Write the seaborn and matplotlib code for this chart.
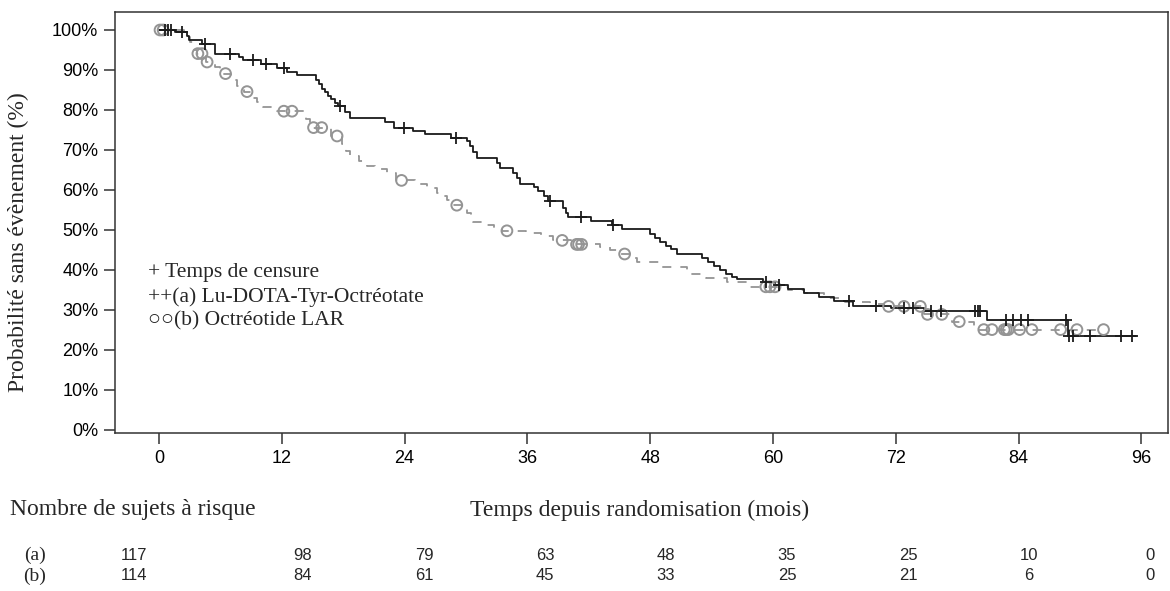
import matplotlib
matplotlib.use("Agg")
import matplotlib.pyplot as plt
import seaborn as sns
import numpy as np
import pandas as pd

# --- step curve (a) Lu-DOTA-Tyr-Octreotate: time of each step, level after it (%)
a_time = [0, 1.6, 2.7, 2.9, 4.2, 5.5, 7.8, 8.2, 10.0, 11.5, 12.5, 13.5, 15.3, 15.6,
          15.9, 16.2, 16.5, 16.8, 17.2, 17.5, 18.2, 18.7, 22.1, 23.0, 24.8, 26.0,
          28.5, 30.1, 30.4, 30.7, 31.1, 33.0, 33.3, 34.6, 35.0, 35.3, 36.6, 37.0,
          37.6, 38.0, 39.5, 39.8, 40.0, 42.2, 44.3, 45.2, 48.0, 48.5, 49.0, 49.5,
          50.0, 50.6, 53.1, 53.6, 54.2, 54.8, 55.4, 56.0, 56.5, 59.0, 60.2, 61.5,
          63.0, 64.5, 66.0, 67.8, 71.5, 74.8, 80.9, 88.8, 95.5]
a_surv = [100, 99.4, 98.5, 97.5, 96.5, 94.1, 93.2, 92.4, 91.6, 90.6, 89.5, 88.7, 87.5, 86.6,
          85.3, 84.5, 83.6, 82.8, 81.7, 80.9, 79.6, 78.0, 76.9, 75.6, 74.8, 74.1,
          73.0, 72.2, 71.1, 69.6, 68.0, 66.7, 65.4, 64.3, 63.0, 61.6, 60.8, 59.7,
          58.5, 57.2, 55.5, 54.3, 53.2, 52.3, 51.3, 50.2, 49.1, 48.0, 47.0, 46.0,
          45.2, 44.1, 43.0, 42.0, 41.0, 40.0, 39.0, 38.3, 37.7, 36.9, 36.2, 35.3,
          34.2, 33.2, 32.2, 31.0, 30.5, 29.7, 27.6, 23.6, 23.6]
a_censor = [0.6, 0.9, 1.2, 2.2, 4.5, 6.9, 9.2, 10.5, 12.2, 17.7, 23.9, 29.0, 38.2,
            41.2, 44.4, 59.3, 60.6, 67.4, 70.1, 72.8, 73.7, 75.4, 76.4, 79.7, 80.0,
            80.2, 82.8, 83.5, 84.2, 84.9, 88.6, 88.9, 89.3, 91.0, 94.0, 95.1]

# --- step curve (b) Octreotide LAR
b_time = [0, 2.4, 3.0, 3.4, 3.7, 4.6, 5.5, 6.0, 6.3, 7.0, 7.6, 8.3, 9.2, 9.6, 10.2,
          11.5, 14.4, 14.8, 16.8, 17.9, 18.3, 18.7, 19.5, 20.3, 21.1, 22.3, 23.2,
          25.0, 26.2, 27.2, 27.7, 28.1, 28.7, 30.1, 30.5, 30.7, 31.7, 32.7, 33.5,
          35.9, 37.3, 38.5, 40.3, 43.1, 44.1, 45.0, 46.0, 46.7, 49.0, 51.6, 53.5,
          55.5, 57.5, 61.5, 63.0, 65.0, 67.0, 69.5, 70.8, 74.8, 77.5, 79.6, 92.3]
b_surv = [100, 98.2, 96.9, 95.0, 94.1, 92.0, 90.8, 89.9, 89.1, 87.5, 86.1, 84.6, 83.0, 81.9, 80.8,
          79.7, 77.8, 75.6, 73.5, 71.4, 69.8, 68.5, 67.3, 66.0, 65.2, 64.3, 62.4,
          61.4, 60.5, 59.3, 58.5, 57.6, 56.2, 54.2, 53.0, 52.1, 51.3, 50.5, 49.8,
          49.2, 48.6, 47.4, 46.4, 45.8, 45.0, 44.0, 43.0, 42.1, 40.8, 39.1, 37.9,
          37.0, 35.8, 35.0, 34.2, 33.0, 32.0, 31.5, 30.9, 28.9, 27.1, 25.1, 25.1]
b_censor = [0.1, 0.4, 3.8, 4.2, 4.7, 6.5, 8.6, 12.2, 13.0, 15.1, 15.9, 17.4, 23.7,
            29.1, 34.0, 39.4, 40.8, 41.0, 41.3, 45.5, 59.3, 59.7, 60.2, 71.3, 72.8,
            74.4, 75.1, 76.5, 78.2, 80.6, 81.4, 82.6, 82.8, 83.0, 84.1, 85.3, 88.1,
            89.7, 92.3]

# --- number at risk table
risk_times = [0, 12, 24, 36, 48, 60, 72, 84, 96]
risk_a = [117, 98, 79, 63, 48, 35, 25, 10, 0]
risk_b = [114, 84, 61, 45, 33, 25, 21, 6, 0]

x_ticks = [0, 12, 24, 36, 48, 60, 72, 84, 96]
y_ticks = [0, 10, 20, 30, 40, 50, 60, 70, 80, 90, 100]

BLACK = "#1a1a1a"
GREY = "#949494"


def level_at(times, levels, t):
    i = np.searchsorted(times, t, side="right") - 1
    return np.asarray(levels)[i]


sns.set_theme(style="ticks")
plt.rcParams["font.family"] = ["Liberation Sans", "DejaVu Sans"]

fig = plt.figure(figsize=(11.7, 5.91), dpi=100)
ax = fig.add_axes([115 / 1170, 1 - 433 / 591, 1053 / 1170, 421 / 591])

curve_a = pd.DataFrame({"t": a_time, "s": a_surv})
curve_b = pd.DataFrame({"t": b_time, "s": b_surv})

sns.lineplot(data=curve_b, x="t", y="s", ax=ax, color=GREY, linewidth=1.3,
             drawstyle="steps-post", linestyle=(0, (5, 5)),
             estimator=None, sort=False)
sns.lineplot(data=curve_a, x="t", y="s", ax=ax, color=BLACK, linewidth=1.3,
             drawstyle="steps-post", estimator=None, sort=False)

cens_b = pd.DataFrame({"t": b_censor,
                       "s": [level_at(b_time, b_surv, c) for c in b_censor]})
cens_a = pd.DataFrame({"t": a_censor,
                       "s": [level_at(a_time, a_surv, c) for c in a_censor]})
sns.scatterplot(data=cens_b, x="t", y="s", ax=ax, marker="o", s=60,
                facecolor="none", edgecolor=GREY, linewidth=1.4, zorder=3)
sns.scatterplot(data=cens_a, x="t", y="s", ax=ax, marker="+", s=85,
                color=BLACK, linewidth=1.3, zorder=4)

ax.set_xlim(-4.3, 98.6)
ax.set_ylim(-0.75, 104.5)
ax.set_xticks(x_ticks)
ax.set_yticks(y_ticks)
ax.set_yticklabels([f"{v}%" for v in y_ticks])
ax.tick_params(axis="both", labelsize=13, length=8, width=1.1, color="#333333",
               labelcolor="black", direction="out", pad=4)
for side in ["left", "right", "top", "bottom"]:
    ax.spines[side].set_visible(True)
    ax.spines[side].set_color("#333333")
    ax.spines[side].set_linewidth(1.1)
ax.set_xlabel("")
ax.set_ylabel("")

serif = ["Liberation Serif", "DejaVu Serif"]

# legend-style annotations inside the axes
legend_lines = ["+ Temps de censure",
                "++(a) Lu-DOTA-Tyr-Octréotate",
                "\u25cb\u25cb(b) Octréotide LAR"]
for i, line in enumerate(legend_lines):
    fig.text(148 / 1170, 1 - (273 + 24 * i) / 591, line, family=serif,
             fontsize=15.5, ha="left", va="center")

fig.text(18 / 1170, 1 - 242 / 591, "Probabilité sans évènement (%)", family=serif,
         fontsize=17, rotation=90, ha="center", va="center")
fig.text(640 / 1170, 1 - 510 / 591, "Temps depuis randomisation (mois)",
         family=serif, fontsize=17, ha="center", va="center")
fig.text(10 / 1170, 1 - 510 / 591, "Nombre de sujets à risque", family=serif,
         fontsize=17, ha="left", va="center")

# number at risk rows
col_px = [134] + [303 + 121 * i for i in range(len(risk_times) - 1)]
narrow = ["Liberation Sans Narrow", "Liberation Sans", "DejaVu Sans"]
for row_y, label, counts in [(555, "(a)", risk_a), (576, "(b)", risk_b)]:
    fig.text(35 / 1170, 1 - row_y / 591, label, family=serif, fontsize=14,
             ha="center", va="center")
    for px, n in zip(col_px, counts):
        fig.text(px / 1170, 1 - row_y / 591, str(n), family=narrow, fontsize=12,
                 ha="center", va="center")

fig.savefig("out.png", dpi=100)
